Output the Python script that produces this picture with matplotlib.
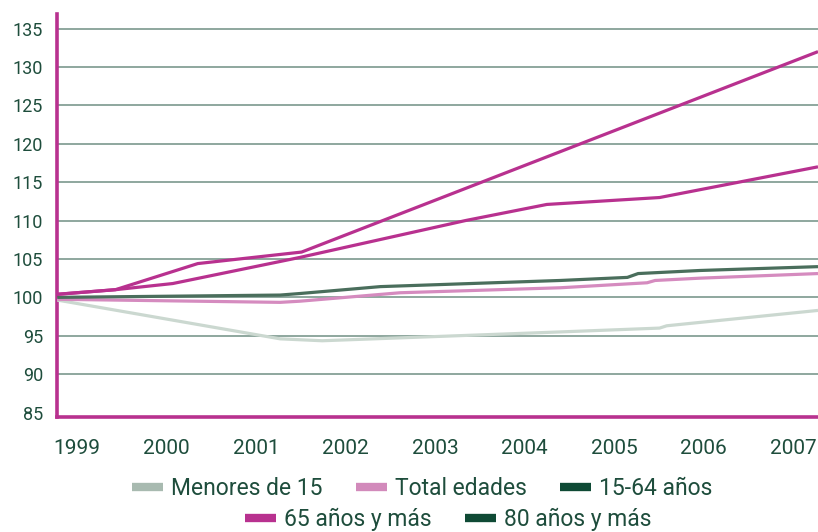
import matplotlib
matplotlib.use("Agg")
import matplotlib.pyplot as plt
from matplotlib.lines import Line2D

# datos (indice base 1999 = 100)
years = ["1999", "2000", "2001", "2002", "2003", "2004", "2005", "2006", "2007"]

menores_x = [1998.78, 2001.27, 2001.74, 2004.40, 2005.51, 2005.59, 2007.28]
menores_y = [99.65, 94.6, 94.35, 95.5, 96.0, 96.3, 98.3]

total_x = [1998.78, 2001.27, 2001.49, 2002.61, 2004.40, 2005.37, 2005.46, 2005.96, 2007.28]
total_y = [99.75, 99.35, 99.5, 100.6, 101.25, 101.9, 102.2, 102.5, 103.1]

adultos_x = [1998.78, 2001.27, 2001.49, 2002.39, 2004.40, 2005.15, 2005.27, 2005.96, 2007.28]
adultos_y = [100.0, 100.3, 100.5, 101.4, 102.2, 102.6, 103.1, 103.5, 104.0]

mayores65_x = [1998.78, 1999.43, 2000.07, 2001.49, 2003.34, 2004.25, 2005.51, 2007.28]
mayores65_y = [100.4, 101.0, 101.8, 105.2, 110.0, 112.1, 113.0, 117.0]

mayores80_x = [1998.78, 1999.43, 2000.35, 2001.51, 2007.28]
mayores80_y = [100.4, 101.0, 104.4, 105.9, 132.0]

labels = ["Menores de 15", "Total edades", "15-64 años", "65 años y más", "80 años y más"]
line_colors = ["#cbd8d0", "#d58bbf", "#4a6e5c", "#b8318f", "#b8318f"]
legend_colors = ["#a8bab0", "#d28abb", "#0f4a35", "#b8318f", "#0f4a35"]

magenta = "#b8318f"
texto = "#1e4d3c"
cond = ["Liberation Sans Narrow", "Roboto", "DejaVu Sans"]

fig = plt.figure(figsize=(8.18, 5.32), dpi=100)
ax = fig.add_axes([0.0697, 0.216, 0.9303, 0.7577])

series = [(menores_x, menores_y), (total_x, total_y), (adultos_x, adultos_y),
          (mayores65_x, mayores65_y), (mayores80_x, mayores80_y)]
for (xs, ys), c, lab in zip(series, line_colors, labels):
    ax.plot(xs, ys, color=c, lw=2.3, label=lab, solid_capstyle="butt", zorder=3)

ax.set_xlim(1998.777, 2007.28)
ax.set_ylim(84.41, 136.9)
ax.set_yticks(range(85, 136, 5))
ax.set_xticks([int(y) for y in years])
ax.set_xticklabels(years, family=cond, fontsize=15, color=texto)
for t in ax.get_yticklabels():
    t.set_family(["Roboto", "DejaVu Sans"])
    t.set_fontsize(13)
    t.set_color(texto)
ax.tick_params(axis="both", length=0)
ax.tick_params(axis="x", pad=16)
ax.tick_params(axis="y", pad=10)

ax.grid(axis="y", color="#86a096", lw=1.3, zorder=1)
ax.set_axisbelow(True)
ax.yaxis.get_gridlines()[0].set_visible(False)  # la de 85 no se ve
for s in ["top", "right"]:
    ax.spines[s].set_visible(False)
for s in ["left", "bottom"]:
    ax.spines[s].set_color(magenta)
    ax.spines[s].set_linewidth(2.6)

handles = [Line2D([], [], color=c, lw=6, solid_capstyle="butt") for c in legend_colors]
leg_kw = dict(frameon=False, handlelength=1.35, handletextpad=0.35, columnspacing=1.45,
              prop={"family": cond, "size": 16.5}, labelcolor=texto, borderpad=0)
leg1 = fig.legend(handles[:3], labels[:3], ncol=3, loc="center", bbox_to_anchor=(0.5165, 0.081), **leg_kw)
leg2 = fig.legend(handles[3:], labels[3:], ncol=2, loc="center", bbox_to_anchor=(0.548, 0.023), **leg_kw)

fig.savefig("out.png", dpi=100)
